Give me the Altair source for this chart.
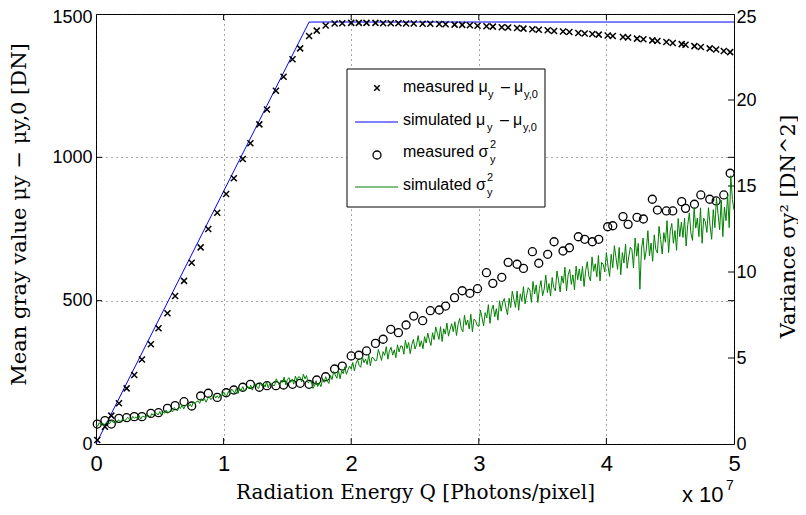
import altair as alt
import pandas as pd

# ---------------- data (Q in units of 1e7 photons/pixel) ----------------
Q_MEAS = [0.01, 0.07, 0.12, 0.18, 0.24, 0.30, 0.36, 0.43, 0.49, 0.56,
          0.62, 0.69, 0.75, 0.82, 0.88, 0.95, 1.02, 1.08, 1.15, 1.21,
          1.28, 1.34, 1.41, 1.47, 1.54, 1.60, 1.67, 1.73, 1.80, 1.87,
          1.93, 2.00, 2.06, 2.12, 2.19, 2.25, 2.31, 2.37, 2.43, 2.49,
          2.56, 2.62, 2.69, 2.74, 2.81, 2.87, 2.93, 2.99, 3.06, 3.11,
          3.18, 3.23, 3.30, 3.35, 3.42, 3.47, 3.54, 3.59, 3.66, 3.71,
          3.78, 3.83, 3.89, 3.94, 4.01, 4.05, 4.13, 4.17, 4.24, 4.29,
          4.36, 4.40, 4.47, 4.52, 4.59, 4.62, 4.69, 4.74, 4.81, 4.86,
          4.92, 4.97]

MU_MEAS = [14, 60, 99, 142, 194, 241, 295, 348, 404, 456,
           516, 569, 632, 686, 750, 807, 872, 927, 994, 1049,
           1115, 1167, 1232, 1281, 1342, 1380, 1423, 1442, 1460, 1467,
           1468, 1469, 1469, 1469, 1469, 1468, 1468, 1468, 1467, 1467,
           1466, 1466, 1465, 1464, 1463, 1462, 1461, 1459, 1457, 1456,
           1454, 1453, 1451, 1449, 1447, 1445, 1443, 1441, 1439, 1437,
           1434, 1432, 1430, 1428, 1425, 1423, 1420, 1418, 1414, 1412,
           1408, 1406, 1402, 1399, 1395, 1393, 1388, 1385, 1380, 1376,
           1371, 1367]

VAR_MEAS = [1.16, 1.36, 1.16, 1.49, 1.53, 1.59, 1.59, 1.78, 1.82, 2.07,
            2.23, 2.46, 2.21, 2.79, 2.95, 2.71, 2.98, 3.14, 3.30, 3.47,
            3.30, 3.39, 3.39, 3.43, 3.47, 3.53, 3.47, 3.72, 3.91, 4.36,
            4.53, 5.12, 5.16, 5.41, 5.85, 6.09, 6.67, 6.47, 6.92, 7.44,
            7.17, 7.75, 7.79, 8.02, 8.51, 8.91, 8.76, 9.03, 9.96, 9.34,
            9.69, 10.56, 10.45, 10.21, 11.18, 10.51, 11.03, 11.76, 11.22, 11.41,
            12.05, 11.90, 11.76, 11.90, 12.63, 12.69, 13.22, 12.77, 13.18, 13.08,
            14.23, 13.60, 13.55, 13.55, 14.09, 13.70, 13.94, 14.48, 14.23, 14.13,
            14.48, 15.74]

Q_SIM_MU = [0.0, 1.67, 5.0]
MU_SIM = [0, 1472, 1472]

# simulated variance, one value every 0.0125e7 photons/pixel, from Q = 0 to 5e7
SIM_VAR_STEP = 0.0125
VAR_SIM = [
    1.14, 1.02, 1.24, 1.13, 1.23, 1.06, 1.21, 1.30, 1.16, 1.24, 1.39, 1.22, 1.32, 1.21, 1.41, 1.31,
    1.35, 1.49, 1.32, 1.46, 1.55, 1.43, 1.40, 1.61, 1.50, 1.57, 1.46, 1.66, 1.44, 1.61, 1.60, 1.54,
    1.74, 1.64, 1.57, 1.77, 1.67, 1.86, 1.78, 1.69, 1.89, 1.67, 1.87, 1.79, 1.97, 1.78, 1.88, 1.98,
    1.86, 2.12, 2.03, 1.92, 2.13, 2.07, 2.28, 2.03, 2.24, 2.33, 2.18, 2.31, 2.16, 2.46, 2.33, 2.48,
    2.50, 2.36, 2.64, 2.50, 2.63, 2.43, 2.63, 2.74, 2.57, 2.68, 2.87, 2.67, 2.80, 2.66, 2.91, 2.81,
    3.03, 2.89, 2.78, 3.06, 2.92, 3.20, 3.08, 2.96, 3.23, 2.93, 3.21, 3.10, 3.34, 3.08, 3.23, 3.36,
    3.20, 3.42, 3.13, 3.36, 3.50, 3.29, 3.23, 3.58, 3.38, 3.49, 3.31, 3.62, 3.26, 3.53, 3.51, 3.40,
    3.40, 3.79, 3.61, 3.40, 3.71, 3.58, 3.89, 3.43, 3.75, 3.86, 3.58, 3.77, 3.48, 3.95, 3.69, 3.91,
    3.88, 3.61, 4.06, 3.79, 3.98, 3.55, 3.63, 3.60, 3.23, 3.38, 3.68, 3.34, 3.55, 3.33, 3.75, 3.58,
    3.91, 3.68, 3.52, 3.98, 3.75, 4.22, 4.02, 3.82, 4.29, 3.79, 4.25, 4.09, 4.49, 4.05, 4.31, 4.53,
    4.36, 4.74, 4.25, 4.67, 4.91, 4.56, 4.46, 5.08, 4.73, 4.94, 4.62, 5.18, 4.55, 5.04, 5.00, 4.83,
    4.86, 5.49, 5.19, 4.86, 5.37, 5.15, 5.66, 4.93, 5.43, 5.62, 5.17, 5.47, 5.02, 5.77, 5.35, 5.70,
    5.69, 5.22, 6.02, 5.55, 5.90, 5.25, 5.78, 6.08, 5.52, 5.78, 6.30, 5.66, 6.00, 5.54, 6.24, 5.87,
    6.45, 6.04, 5.73, 6.47, 6.06, 6.80, 6.44, 6.08, 6.82, 5.96, 6.70, 6.39, 7.03, 6.27, 6.66, 7.00,
    6.53, 7.11, 6.31, 6.94, 7.30, 6.72, 6.52, 7.49, 6.91, 7.21, 6.69, 7.54, 6.52, 7.26, 7.18, 6.88,
    6.84, 7.79, 7.36, 6.87, 7.64, 7.33, 8.10, 7.01, 7.78, 8.07, 7.40, 7.87, 7.20, 8.33, 7.72, 8.25,
    8.46, 7.92, 7.51, 8.47, 7.93, 8.88, 8.41, 7.94, 8.89, 7.77, 8.73, 8.32, 9.15, 8.15, 8.65, 9.09,
    8.96, 8.23, 9.45, 8.72, 9.25, 8.23, 9.04, 9.50, 8.62, 9.01, 9.82, 8.80, 9.33, 8.60, 9.68, 9.09,
    8.90, 10.06, 9.49, 8.84, 9.77, 9.35, 10.28, 8.89, 9.82, 10.15, 9.28, 9.83, 8.96, 10.34, 9.55, 10.18,
    9.48, 10.32, 9.16, 10.08, 10.60, 9.76, 9.48, 10.88, 10.04, 10.48, 9.72, 10.96, 9.48, 10.56, 10.44, 10.00,
    11.13, 10.35, 9.74, 11.03, 10.25, 11.53, 10.84, 10.15, 11.43, 9.84, 11.13, 10.52, 11.63, 10.22, 10.87, 11.44,
    11.30, 10.24, 11.98, 10.92, 11.66, 9.00, 11.34, 11.98, 10.72, 11.26, 12.40, 10.94, 11.68, 10.62, 12.16, 11.30,
    11.10, 12.65, 11.89, 11.04, 12.29, 11.73, 12.98, 11.13, 12.37, 12.82, 11.67, 12.41, 11.26, 13.11, 12.05, 12.90,
    12.01, 13.14, 11.51, 12.75, 13.44, 12.25, 11.84, 13.74, 12.55, 13.13, 12.06, 13.73, 11.67, 13.13, 12.93, 12.30,
    13.74, 12.70, 11.90, 13.62, 12.58, 14.30, 13.38, 12.46, 14.18, 12.06, 13.78, 12.98, 14.46, 12.58, 15.60, 14.22,
    13.60,
]

X_TICKS = [0, 1, 2, 3, 4, 5]
MU_TICKS = [0, 500, 1000, 1500]
VAR_TICKS = [0, 5, 10, 15, 20, 25]

# ---------------- styling ----------------
W, H = 638, 430
LABEL_FONT = "Liberation Sans"
TITLE_FONT = "DejaVu Serif"
TICK_LEN = 6
CROSS = "M-1,-1L1,1M-1,1L1,-1"
GRID = dict(grid=True, gridDash=[1, 4], gridColor="#222222", gridOpacity=0.8, gridWidth=1)

meas = pd.DataFrame({"Q": Q_MEAS, "mu": MU_MEAS, "var": VAR_MEAS})
sim_mu = pd.DataFrame({"Q": Q_SIM_MU, "mu": MU_SIM})
sim_var = pd.DataFrame({"Q": [round(i * SIM_VAR_STEP, 4) for i in range(len(VAR_SIM))],
                        "var": VAR_SIM})
xt = pd.DataFrame({"Q": X_TICKS[1:-1]})
mut = pd.DataFrame({"mu": MU_TICKS[1:-1]})
vart = pd.DataFrame({"var": VAR_TICKS[1:-1]})

x_enc = alt.X(
    "Q:Q",
    scale=alt.Scale(domain=[0, 5], nice=False, zero=False),
    axis=alt.Axis(values=X_TICKS, format="d", title="Radiation Energy Q [Photons/pixel]",
                  labelFont=LABEL_FONT, labelFontSize=22, labelColor="black", labelPadding=9,
                  ticks=False, domain=False, labelFlush=False, **GRID,
                  titleFont=TITLE_FONT, titleFontSize=20, titleFontWeight="normal",
                  titleColor="black", titleBaseline="alphabetic", titleY=54),
)
y_mu = alt.Y(
    "mu:Q",
    scale=alt.Scale(domain=[0, 1500], nice=False),
    axis=alt.Axis(values=MU_TICKS, format="d", title="Mean gray value μy − μy,0 [DN]",
                  labelFont=LABEL_FONT, labelFontSize=18, labelColor="black", labelPadding=4,
                  labelOffset={"condition": {"test": "datum.value == 1500", "value": 3.5},
                               "value": 0},
                  ticks=False, domain=False, labelOverlap=False, **GRID,
                  titleFont=TITLE_FONT, titleFontSize=21, titleFontWeight="normal",
                  titleColor="black", titleBaseline="alphabetic", titleX=-71, titleY=200),
)
y_var = alt.Y(
    "var:Q",
    scale=alt.Scale(domain=[0, 25], nice=False),
    axis=alt.Axis(orient="right", values=VAR_TICKS, format="d", title="Variance σy² [DN^2]",
                  labelFont=LABEL_FONT, labelFontSize=18, labelColor="black", labelPadding=2,
                  labelOffset={"condition": {"test": "datum.value == 25", "value": 3.5},
                               "value": 0},
                  ticks=False, domain=False, grid=False, labelOverlap=False,
                  titleFont=TITLE_FONT, titleFontSize=21, titleFontWeight="normal",
                  titleColor="black", titleAngle=270, titleBaseline="alphabetic",
                  titleX=60, titleY=212),
)

# ---- left-scale group ----
blue = alt.Chart(sim_mu).mark_line(color="#0000ff", strokeWidth=1).encode(x=x_enc, y=y_mu)
crosses = alt.Chart(meas).mark_point(shape=CROSS, size=36, color="black", strokeWidth=1.5,
                                     filled=False, opacity=1).encode(x=x_enc, y=y_mu)
tick_bottom = alt.Chart(xt).mark_rule(color="black").encode(
    x=x_enc, y=alt.value(H), y2=alt.value(H - TICK_LEN))
tick_top = alt.Chart(xt).mark_rule(color="black").encode(
    x=x_enc, y=alt.value(0), y2=alt.value(TICK_LEN))
tick_mu_l = alt.Chart(mut).mark_rule(color="black").encode(
    y=y_mu, x=alt.value(0), x2=alt.value(TICK_LEN))
tick_mu_r = alt.Chart(mut).mark_rule(color="black").encode(
    y=y_mu, x=alt.value(W), x2=alt.value(W - TICK_LEN))
left = alt.layer(tick_bottom, tick_top, tick_mu_l, tick_mu_r, blue, crosses)

# ---- right-scale group ----
circles = alt.Chart(meas).mark_point(shape="circle", size=64, color="black", strokeWidth=1.3,
                                     filled=False, opacity=1).encode(x=x_enc, y=y_var)
green = alt.Chart(sim_var).mark_line(color="#008000", strokeWidth=1).encode(x=x_enc, y=y_var)
tick_var_r = alt.Chart(vart).mark_rule(color="black").encode(
    y=y_var, x=alt.value(W), x2=alt.value(W - TICK_LEN))
right = alt.layer(tick_var_r, circles, green)

# ---- legend (annotation, pixel positions) ----
leg_box = alt.Chart(pd.DataFrame({"a": [0]})).mark_rect(
    fill="white", stroke="black", strokeWidth=1).encode(
    x=alt.value(251), x2=alt.value(449), y=alt.value(55), y2=alt.value(193))
leg_lines = alt.Chart(pd.DataFrame({"py": [108, 173], "c": ["#0000ff", "#008000"]})).mark_rule(
    strokeWidth=1).encode(
    y=alt.Y("py:Q", scale=None, axis=None), x=alt.value(259), x2=alt.value(302),
    color=alt.Color("c:N", scale=None, legend=None))
leg_cross = alt.Chart(pd.DataFrame({"a": [0]})).mark_point(
    shape=CROSS, size=30, color="black", strokeWidth=1.5, filled=False, opacity=1).encode(
    x=alt.value(281), y=alt.value(74))
leg_circ = alt.Chart(pd.DataFrame({"a": [0]})).mark_point(
    shape="circle", size=64, color="black", strokeWidth=1.3, filled=False, opacity=1).encode(
    x=alt.value(281), y=alt.value(141))

leg_text = pd.DataFrame([
    ("measured μ", 307, 78, 16), ("y", 392, 84, 11), ("–", 405, 78, 16),
    ("μ", 418, 78, 16), ("y,0", 428, 84, 11),
    ("simulated μ", 307, 111, 16), ("y", 391, 117, 11), ("–", 404, 111, 16),
    ("μ", 417, 111, 16), ("y,0", 427, 117, 11),
    ("measured σ", 307, 143, 16), ("2", 394, 134, 11), ("y", 394, 149, 11),
    ("simulated σ", 307, 176, 16), ("2", 391, 167, 11), ("y", 391, 182, 11),
], columns=["t", "px", "py", "fs"])
leg_txt = alt.Chart(leg_text).mark_text(align="left", baseline="alphabetic", font=LABEL_FONT,
                                        color="black").encode(
    x=alt.X("px:Q", scale=None, axis=None), y=alt.Y("py:Q", scale=None, axis=None),
    text="t:N", size=alt.Size("fs:Q", scale=None, legend=None))

exp_text = pd.DataFrame([("x 10", 586, 488, 22), ("7", 630, 476, 14)],
                        columns=["t", "px", "py", "fs"])
exp_txt = alt.Chart(exp_text).mark_text(align="left", baseline="alphabetic", font=LABEL_FONT,
                                        color="black").encode(
    x=alt.X("px:Q", scale=None, axis=None), y=alt.Y("py:Q", scale=None, axis=None),
    text="t:N", size=alt.Size("fs:Q", scale=None, legend=None))

chart = alt.layer(left, right, leg_box, leg_lines, leg_cross, leg_circ, leg_txt, exp_txt
                  ).resolve_scale(y="independent").properties(
    width=W, height=H,
    padding={"left": 88, "top": 6, "right": 64, "bottom": 63},
    autosize=alt.AutoSizeParams(type="none"),
    background="white",
).configure_view(stroke="black", strokeWidth=1)

chart.save("out.html", embed_options={"renderer": "svg", "actions": False})
